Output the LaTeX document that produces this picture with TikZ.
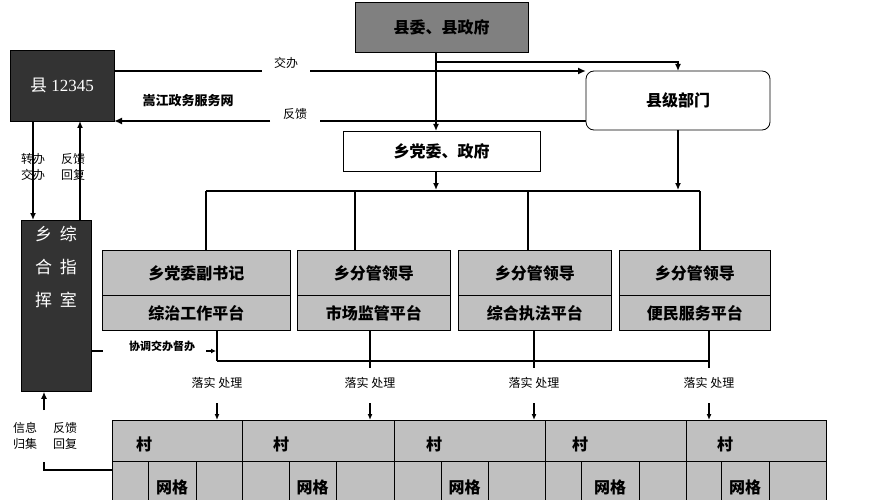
\documentclass[tikz,border=0pt]{standalone}
\usepackage{fontspec}
\setmainfont{Liberation Serif}
\newfontfamily\cjk{Noto Sans CJK SC}
\usetikzlibrary{arrows.meta,calc}
\definecolor{dark}{HTML}{333333}
\definecolor{midgray}{HTML}{808080}
\definecolor{lgray}{HTML}{C0C0C0}
\tikzset{
  box/.style={draw=black,line width=0.8pt,inner sep=0pt,font=\cjk\fontsize{16}{18}\selectfont\bfseries},
  lbl/.style={font=\cjk\fontsize{12}{16}\selectfont,inner sep=1pt,align=center},
  ln/.style={line width=1.3pt},
  thk/.style={line width=2pt},
  arr/.style={line width=1.3pt,-{Latex[length=7pt,width=6pt]}},
  grid/.style={draw=black,line width=0.6pt,fill=lgray}
}
\begin{document}
\begin{tikzpicture}[x=1pt,y=-1pt]
\useasboundingbox (0,0) rectangle (873,500);
% top boxes
\node[box,fill=midgray,minimum width=173pt,minimum height=50pt] (xw) at (441.5,27) {县委、县政府};
\node[box,fill=dark,text=white,minimum width=104pt,minimum height=71pt,font=\fontsize{17}{18}\selectfont] (h) at (62,85.5) {{\cjk 县} 12345};
\node[box,fill=white,rounded corners=8pt,minimum width=184pt,minimum height=59pt] (bm) at (678,100.5) {县级部门};
\node[box,fill=white,minimum width=197pt,minimum height=40pt] (xd) at (441.5,151) {乡党委、政府};
% 12345 lines
\coordinate (a1) at (114,71); \coordinate (a2) at (586,71);
\draw[thk] (a1) -- (262,71); \draw[thk,-{Latex[length=8pt,width=7pt]}] (310,71) -- (a2);
\node[lbl] (jb) at (286,63) {交办};
\coordinate (b1) at (586,121); \coordinate (b2) at (114,121);
\draw[thk] (b1) -- (320,121); \draw[thk,-{Latex[length=8pt,width=7pt]}] (270,121) -- (b2);
\node[lbl] (fk) at (295,114) {反馈};
\node[font=\cjk\fontsize{13}{14}\selectfont\bfseries] (sj) at (188,101) {嵩江政务服务网};
% xw down
\draw[arr] (436,52) -- (436,131);
\draw[arr] (436,62) -| (678,71);
\draw[arr] (bm.south) -- (678,190);
\draw[arr] (436,171) -- (436,190);
\draw[thk] (206,191) -- (700,191);
% four platform boxes
\foreach \n/\xa/\xb/\ta/\tb in {p1/102/290/乡党委副书记/综治工作平台,p2/297/450/乡分管领导/市场监管平台,p3/458/611/乡分管领导/综合执法平台,p4/619/770/乡分管领导/便民服务平台}{
  \node[box,fill=lgray,minimum width=\xb-\xa,minimum height=45pt,anchor=north west] (\n t) at (\xa,250) {\ta};
  \node[box,fill=lgray,minimum width=\xb-\xa,minimum height=35pt,anchor=north west] (\n b) at (\xa,295) {\tb};
}
\draw[ln] (206,191) -- (206,250);
\draw[ln] (355,191) -- (355,250);
\draw[ln] (528,191) -- (528,250);
\draw[ln] (700,191) -- (700,250);
% command room
\node[box,fill=dark,text=white,minimum width=70pt,minimum height=171pt,align=center,font=\cjk\fontsize{17}{33}\selectfont,anchor=north] (zh) at (56,220) {\rule{0pt}{6pt}\\[-30pt]乡\ \ 综\\合\ \ 指\\挥\ \ 室\\[40pt]};
\draw[ln,-{Latex[length=7pt,width=6pt]}] (33,121) -- (33,220);
\draw[ln,-{Latex[length=7pt,width=6pt]}] (80,220) -- (80,121);
\node[lbl] (l1) at (33,167) {转办\\交办};
\node[lbl] (l2) at (73,167) {反馈\\回复};
% coordination
\draw[ln] (91,351) -- (103,351);
\node[lbl,font=\cjk\fontsize{11}{12}\selectfont\bfseries] (xt) at (162,346) {协调交办督办};
\draw[ln,-{Latex[length=5pt,width=5pt]}] (206,351) -- (216,351);
\draw[thk] (217,361) -- (709,361);
\draw[ln] (217,330) -- (217,361);
\draw[ln] (370,330) -- (370,368);
\draw[ln] (534,330) -- (534,368);
\draw[ln] (709,330) -- (709,368);
\foreach \x/\k in {217/1,370/2,534/3,709/4}{
  \node[lbl] (ls\k) at (\x,383) {落实 处理};
  \draw[ln,-{Latex[length=6pt,width=5pt]}] (\x,403) -- (\x,420);
}
% villages grid
\draw[grid] (112,420) rectangle (826,505);
\draw[line width=0.6pt] (112,461) -- (826,461);
\foreach \x in {242,394,545,686} \draw[line width=0.6pt] (\x,420) -- (\x,505);
\foreach \a/\b/\c in {148/196/144,289/336/281,441/488/434,581/639/580,721/769/725}{
  \draw[line width=0.6pt] (\a,461) -- (\a,505);
  \draw[line width=0.6pt] (\b,461) -- (\b,505);
  \node[font=\cjk\fontsize{16}{18}\selectfont\bfseries] at (\c,444) {村};
  \node[font=\cjk\fontsize{16}{18}\selectfont\bfseries] at ({(\a+\b)/2},487) {网格};
}
% feedback from villages
\draw[ln,-{Latex[length=7pt,width=6pt]}] (44,410) -- (zh.south -| 44,0);
\draw[ln] (112,470) -- (44,470) -- (44,462);
\node[lbl] (l3) at (25,436) {信息\\归集};
\node[lbl] (l4) at (65,436) {反馈\\回复};
\end{tikzpicture}
\end{document}
